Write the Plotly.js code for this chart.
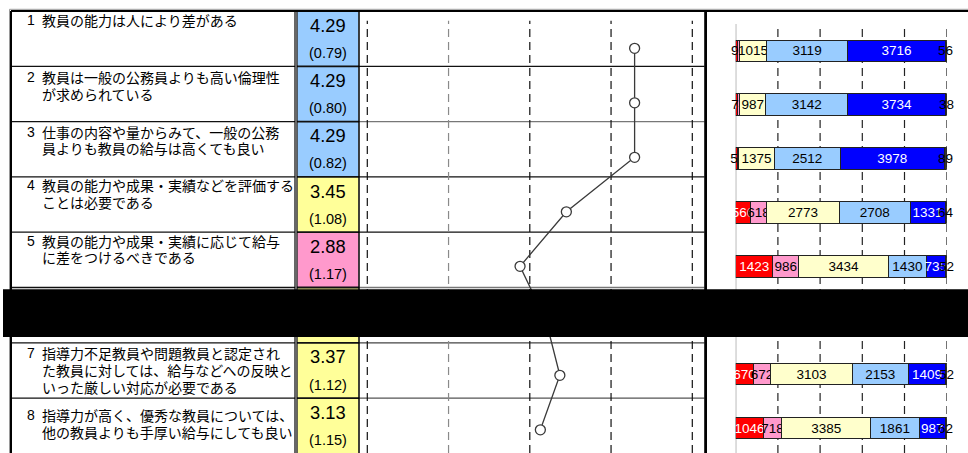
<!DOCTYPE html>
<html><head><meta charset="utf-8">
<script src="https://cdn.plot.ly/plotly-3.0.1.min.js"></script>
<style>html,body{margin:0;padding:0;background:#fff;overflow:hidden}#chart{width:968px;height:453px}</style>
</head><body><div id="chart"></div>
<script>
// ---------- data ----------
const itemNumbers = ['1','2','3','4','5','6','7','8'];
const itemLines = [
  ['教員の能力は人により差がある'],
  ['教員は一般の公務員よりも高い倫理性','が求められている'],
  ['仕事の内容や量からみて、一般の公務','員よりも教員の給与は高くても良い'],
  ['教員の能力や成果・実績などを評価する','ことは必要である'],
  ['教員の能力や成果・実績に応じて給与','に差をつけるべきである'],
  [],
  ['指導力不足教員や問題教員と認定され','た教員に対しては、給与などへの反映と','いった厳しい対応が必要である'],
  ['指導力が高く、優秀な教員については、','他の教員よりも手厚い給与にしても良い']
];
const means = [4.29, 4.29, 4.29, 3.45, 2.88, 3.20, 3.37, 3.13];
const sds   = ['0.79','0.80','0.82','1.08','1.17', null,'1.12','1.15'];
const scaleTicks = [1, 2, 3, 4, 5];
const shareTicks = [0, 20, 40, 60, 80, 100];
const answerLabels = ['そう思わない','あまりそう思わない','どちらともいえない','ややそう思う','そう思う','無回答'];
const cnt1  = [58,   85,   55,   566,  1423, null, 670,  1046];
const cnt2  = [96,   74,   51,   618,  986,  null, 672,  718];
const cnt3  = [1015, 987,  1375, 2773, 3434, null, 3103, 3385];
const cnt4  = [3119, 3142, 2512, 2708, 1430, null, 2153, 1861];
const cnt5  = [3716, 3734, 3978, 1331, 735,  null, 1409, 987];
const cntNA = [56,   38,   89,   64,   52,   null, 52,   62];

// ---------- styling / layout constants ----------
const W = 968, H = 453;
const X = p => p / W, Y = p => 1 - p / H;
const ROW0 = 11, ROWH = 55.3;
const firstLineOff = [9, 10.5, 10, 8.3, 8.4, 0, 10.5, 16.8];
const LINEH = 16.7;
const segColors = ['#FF0000','#FF99CC','#FFFFCC','#99CCFF','#0000FF','#333333'];
const segText   = ['#FFFFFF','#000000','#000000','#000000','#FFFFFF','#000000'];
const cellColor = m => m >= 4 ? '#99CCFF' : (m >= 3 ? '#FFFF99' : '#FF99CC');
const midRowLineColors = ['#111','#777','#111','#111','#777','#444','#555'];
const numFont = 'Liberation Sans, Arial, sans-serif';

const idx = means.map((_, i) => i);
const traces = [];

// line chart of means
traces.push({
  type: 'scatter', mode: 'lines+markers', x: means, y: idx,
  xaxis: 'x', yaxis: 'y',
  line: {color: '#3a3a3a', width: 1.3},
  marker: {symbol: 'circle', size: 10, color: '#FFFFFF', line: {color: '#3a3a3a', width: 1.3}},
  cliponaxis: false, hoverinfo: 'skip', showlegend: false
});

// stacked share bars
const counts = [cnt1, cnt2, cnt3, cnt4, cnt5, cntNA];
const barRows = idx.filter(i => cnt1[i] !== null);
counts.forEach((arr, k) => {
  const isNA = k === counts.length - 1;
  traces.push({
    type: 'bar', orientation: 'h', name: answerLabels[k],
    x: barRows.map(i => arr[i]), y: barRows,
    xaxis: 'x2', yaxis: 'y2', width: 0.40,
    marker: {color: segColors[k], line: {color: '#222', width: 1}},
    text: barRows.map(i => isNA ? '' : String(arr[i])),
    textposition: 'inside', insidetextanchor: 'middle', constraintext: 'none', textangle: 0,
    insidetextfont: {family: numFont, size: 13.5, color: segText[k]},
    cliponaxis: false, hoverinfo: 'skip', showlegend: false
  });
});

const shapes = [];
const annotations = [];
const line = (x0, y0, x1, y1, color, width) => shapes.push({
  type: 'line', xref: 'paper', yref: 'paper', x0: X(x0), x1: X(x1), y0: Y(y0), y1: Y(y1),
  line: {color, width}, layer: 'above'});

// labels for the tiny "no answer" segments (placed at the segment centre on the share axis)
barRows.forEach(i => {
  const total = counts.reduce((s, a) => s + a[i], 0);
  const share = cntNA[i] / total * 100;
  annotations.push({xref: 'x2', yref: 'y2', x: 100 - share / 2, y: i, xanchor: 'center', yanchor: 'middle',
    text: String(cntNA[i]), showarrow: false, font: {family: numFont, size: 13.5, color: '#000'}});
});

// score cells
means.forEach((m, i) => {
  const top = ROW0 + i * ROWH;
  shapes.push({type: 'rect', xref: 'paper', yref: 'paper', x0: X(297.5), x1: X(358.5),
    y0: Y(top), y1: Y(top + ROWH), fillcolor: cellColor(m), line: {width: 0}, layer: 'below'});
});
// row boundaries
for (let i = 1; i < means.length; i++) {
  const y = ROW0 + i * ROWH;
  line(11, y, 295, y, '#111', 1.3);
  line(297, y, 359, y, '#111', 1.8);
  shapes.push({type: 'line', xref: 'paper', yref: 'paper', x0: X(359), x1: X(704.5), y0: Y(y), y1: Y(y),
    line: {color: midRowLineColors[i - 1], width: 1.3}, layer: 'below'});
}
// frame lines
line(9.5, 9.3, 968, 9.3, '#9a9a9a', 1);
line(9.5, 9.3, 9.5, 453, '#9a9a9a', 1);
line(11, 11, 968, 11, '#000', 2);
line(11, 11, 11, 453, '#000', 2);
line(295, 11, 295, 453, '#000', 1.2);
line(297, 11, 297, 453, '#000', 1.2);
line(359, 11, 359, 453, '#000', 1.5);
line(705.6, 11, 705.6, 453, '#000', 2.8);

// middle panel dashed scale lines
scaleTicks.forEach(v => shapes.push({type: 'line', xref: 'x', yref: 'paper', x0: v, x1: v,
  y0: 0, y1: Y(20.7), line: {color: v === 2 ? '#8a8a8a' : '#111', width: 1.2, dash: '8px,5px'}, layer: 'below'}));
// right panel grid
shareTicks.forEach(v => shapes.push({type: 'line', xref: 'x2', yref: 'paper', x0: v, x1: v,
  y0: 0, y1: Y(24), line: {color: v === 0 ? '#888' : '#222', width: 1.2, dash: v === 0 ? 'solid' : '8px,5px'}, layer: 'below'}));

// texts
const jp = {family: 'Noto Sans CJK JP, sans-serif', size: 14, color: '#000'};
itemLines.forEach((lines, i) => {
  if (!lines.length) return;
  const top = ROW0 + i * ROWH;
  const y0 = top + firstLineOff[i];
  annotations.push({xref: 'paper', yref: 'paper', x: X(31.3), y: Y(y0), xanchor: 'center', yanchor: 'middle',
    text: itemNumbers[i], showarrow: false, font: {family: numFont, size: 14, color: '#000'}});
  lines.forEach((t, j) => annotations.push({xref: 'paper', yref: 'paper', x: X(39.6), y: Y(y0 + j * LINEH),
    xanchor: 'left', yanchor: 'middle', text: t, showarrow: false, font: jp}));
  annotations.push({xref: 'paper', yref: 'paper', x: X(328), y: Y(top + 14.2), xanchor: 'center', yanchor: 'middle',
    text: means[i].toFixed(2), showarrow: false, font: {family: numFont, size: 18.3, color: '#000'}});
  annotations.push({xref: 'paper', yref: 'paper', x: X(328), y: Y(top + 41.8), xanchor: 'center', yanchor: 'middle',
    text: '(' + sds[i] + ')', showarrow: false, font: {family: numFont, size: 14.5, color: '#000'}});
});

// redaction band
shapes.push({type: 'rect', xref: 'paper', yref: 'paper', x0: X(3), x1: 1, y0: Y(289.3), y1: Y(337),
  fillcolor: '#000', line: {width: 0}, layer: 'above'});

const axisOff = {showgrid: false, zeroline: false, showticklabels: false, showline: false, ticks: '', fixedrange: true};
const layout = {
  width: W, height: H, autosize: false,
  margin: {l: 0, r: 0, t: 0, b: 0, pad: 0},
  paper_bgcolor: '#fff', plot_bgcolor: 'rgba(0,0,0,0)',
  showlegend: false, barmode: 'stack', barnorm: 'percent',
  xaxis: Object.assign({}, axisOff, {domain: [X(359), X(704)], range: [0.8978, 5.144], anchor: 'y'}),
  yaxis: Object.assign({}, axisOff, {domain: [0, Y(21.05)], range: [(453 - 48.3) / 54.5, -0.5], anchor: 'x'}),
  xaxis2: Object.assign({}, axisOff, {domain: [X(735.7), X(946.7)], range: [0, 100], anchor: 'y2'}),
  yaxis2: Object.assign({}, axisOff, {domain: [0, Y(23.85)], range: [(453 - 50.8) / 53.9, -0.5], anchor: 'x2'}),
  shapes, annotations
};
Plotly.newPlot('chart', traces, layout, {displayModeBar: false, staticPlot: true});
</script></body></html>
